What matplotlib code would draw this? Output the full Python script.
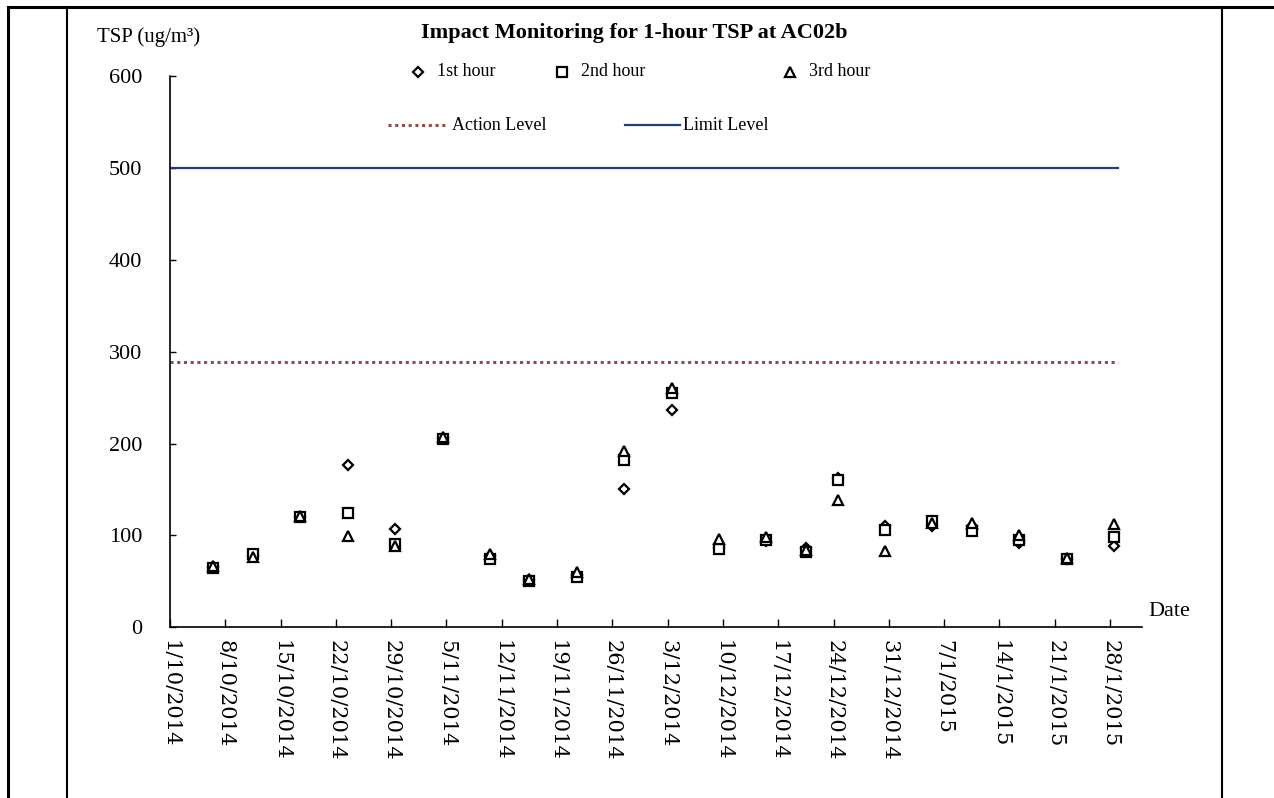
import matplotlib
matplotlib.use("Agg")
import matplotlib.pyplot as plt
from matplotlib.lines import Line2D
import pandas as pd

plt.rcParams["font.family"] = ["Liberation Serif", "DejaVu Serif"]

# Monitoring dates and 1-hour TSP readings (ug/m3)
dates = ["2014-10-06", "2014-10-11", "2014-10-17", "2014-10-23", "2014-10-29",
         "2014-11-04", "2014-11-10", "2014-11-15", "2014-11-21", "2014-11-27",
         "2014-12-03", "2014-12-09", "2014-12-15", "2014-12-20", "2014-12-24",
         "2014-12-30", "2015-01-05", "2015-01-10", "2015-01-16", "2015-01-22",
         "2015-01-28"]
hour1 = [66, 78, 120, 177, 107, 206, 78, 52, 57, 150, 237, 86, 94, 86, 162,
         110, 110, 110, 92, 74, 88]
hour2 = [65, 80, 120, 124, 91, 205, 74, 50, 55, 182, 255, 85, 95, 82, 160,
         106, 116, 105, 95, 74, 98]
hour3 = [67, 76, 121, 99, 88, 207, 80, 53, 60, 192, 260, 96, 98, 84, 139,
         83, 114, 114, 100, 75, 112]

action_level = 289
limit_level = 500
level_span = ["2014-10-01", "2015-01-29"]

tick_dates = ["2014-10-01", "2014-10-08", "2014-10-15", "2014-10-22", "2014-10-29",
              "2014-11-05", "2014-11-12", "2014-11-19", "2014-11-26", "2014-12-03",
              "2014-12-10", "2014-12-17", "2014-12-24", "2014-12-31", "2015-01-07",
              "2015-01-14", "2015-01-21", "2015-01-28"]
tick_labels = ["1/10/2014", "8/10/2014", "15/10/2014", "22/10/2014", "29/10/2014",
               "5/11/2014", "12/11/2014", "19/11/2014", "26/11/2014", "3/12/2014",
               "10/12/2014", "17/12/2014", "24/12/2014", "31/12/2014", "7/1/2015",
               "14/1/2015", "21/1/2015", "28/1/2015"]

x = pd.to_datetime(dates) + pd.Timedelta(hours=12)  # markers sit mid-day like Excel
span = pd.to_datetime(level_span)

fig = plt.figure(figsize=(12.74, 7.98), dpi=100)
ax = fig.add_axes([170 / 1274, 1 - 627.3 / 798, (1141.7 - 170) / 1274, (627.3 - 76) / 798])

action_color = "#8b4f4f"
limit_color = "#1f3b78"
ax.plot(span, [action_level] * 2, ls=(0, (1, 1.2)), lw=2.2, color=action_color)
ax.plot(span, [limit_level] * 2, ls="-", lw=1.6, color=limit_color)

mstyle = dict(ls="none", mfc="white", mec="black", mew=1.6)
ax.plot(x, hour1, marker="D", ms=5.5, **mstyle)
ax.plot(x, hour2, marker="s", ms=7, **mstyle)
ax.plot(x, hour3, marker="^", ms=6.5, **mstyle)

ax.set_xlim(pd.Timestamp("2014-10-01"), pd.Timestamp("2015-02-01"))
ax.set_ylim(0, 600)
ax.set_yticks(range(0, 601, 100))
ax.set_xticks(pd.to_datetime(tick_dates))
ax.set_xticklabels(tick_labels, rotation=270, ha="center", va="top",
                   fontsize=15, family=["DejaVu Serif"])
ax.tick_params(axis="y", direction="in", length=4, width=1, pad=20, labelsize=16)
ax.tick_params(axis="x", direction="in", length=6, width=1, pad=9)
for s in ["top", "right"]:
    ax.spines[s].set_visible(False)
for s in ["left", "bottom"]:
    ax.spines[s].set_linewidth(1.2)

# titles and labels
fig.text(634 / 1274, 1 - 33 / 798, "Impact Monitoring for 1-hour TSP at AC02b",
         ha="center", va="center", fontsize=16, fontweight="bold")
fig.text(97 / 1274, 1 - 37 / 798, "TSP (ug/m³)", ha="left", va="center", fontsize=15)
fig.text(1148 / 1274, 1 - 612 / 798, "Date", ha="left", va="center", fontsize=16)

# legend drawn by hand to keep the original spacing
def fx(px):
    return px / 1274

def fy(py):
    return 1 - py / 798

legend_markers = [("D", 5.5, 418, "1st hour"), ("s", 7, 562, "2nd hour"), ("^", 6.5, 790, "3rd hour")]
for m, ms, px, lab in legend_markers:
    fig.add_artist(Line2D([fx(px)], [fy(72)], marker=m, ms=ms, **mstyle))
    fig.text(fx(px + 19), fy(72), lab, ha="left", va="center", fontsize=13)
fig.add_artist(Line2D([fx(388), fx(445)], [fy(125)] * 2, ls=(0, (1, 1.2)), lw=2.2, color=action_color))
fig.text(fx(452), fy(125), "Action Level", ha="left", va="center", fontsize=13)
fig.add_artist(Line2D([fx(625), fx(680)], [fy(125)] * 2, ls="-", lw=1.6, color=limit_color))
fig.text(fx(683), fy(125), "Limit Level", ha="left", va="center", fontsize=13)

# table cell borders around the chart
fig.add_artist(Line2D([fx(8), 1], [fy(7)] * 2, color="black", lw=2.2))
fig.add_artist(Line2D([fx(8)] * 2, [0, fy(7)], color="black", lw=2.2))
fig.add_artist(Line2D([fx(67)] * 2, [0, fy(7)], color="black", lw=1.5))
fig.add_artist(Line2D([fx(1222)] * 2, [0, fy(7)], color="black", lw=1.5))

fig.savefig("out.png", dpi=100)
